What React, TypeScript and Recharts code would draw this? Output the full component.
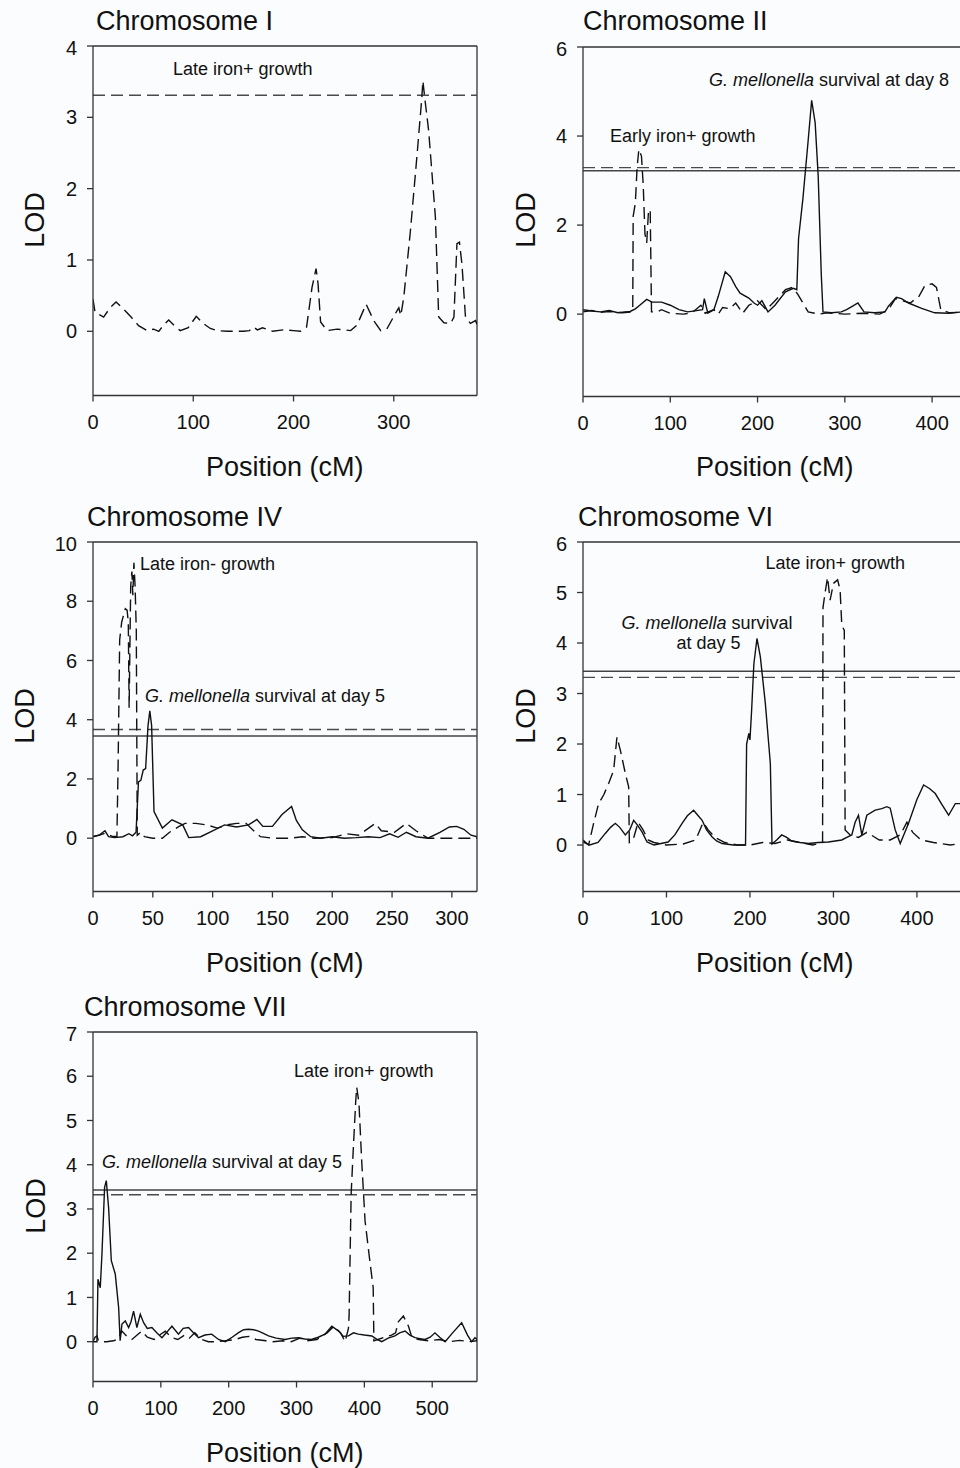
import React from "react";
import { LineChart, Line, XAxis, YAxis, ReferenceLine } from "recharts";

// QTL LOD profiles, five chromosome panels
// each series is a list of [position cM, LOD]

type Pt = [number, number];

// ---- Chromosome I ----
const chr1LateIronPlus: Pt[] = [
  [0, 0.45], [2, 0.27], [10.6, 0.2], [17, 0.33], [23, 0.41], [30, 0.32], [38, 0.2],
  [45.5, 0.08], [54, 0.01], [60.5, 0.03], [65.6, 0], [70, 0.08], [75.5, 0.16], [81, 0.08],
  [87, 0.01], [95, 0.05], [103, 0.21], [110, 0.11], [117, 0.04], [124, 0.01], [134, 0],
  [150, 0], [156, 0.01], [160, 0.06], [164, 0.02], [169, 0.05], [179, 0], [190, 0.02],
  [200, 0.01], [207, 0], [213, 0.06], [218.5, 0.62], [222.5, 0.88], [224.5, 0.66],
  [227, 0.13], [233.5, 0.01], [243.5, 0.03], [257, 0.01], [263.4, 0.09], [272.4, 0.38],
  [280, 0.15], [287, 0.01], [293, 0.03], [301.6, 0.25], [305, 0.33], [307, 0.22],
  [310, 0.48], [316.6, 1.41], [323, 2.44], [328, 3.28], [329, 3.51], [331.5, 3.2],
  [334.8, 2.81], [341.5, 1.6], [344.8, 0.2], [350, 0.12], [356.7, 0.11], [360, 0.2],
  [363, 1.23], [365.5, 1.25], [368, 0.94], [371.5, 0.2], [376.5, 0.11], [381.5, 0.15], [383, 0.1],
];
const chr1DashedThreshold = 3.31;

// ---- Chromosome II ----
const chr2EarlyIronPlus: Pt[] = [
  [0, 0.05], [10, 0.08], [20, 0.04], [30, 0.06], [45, 0.03], [55, 0.05], [57, 0.1],
  [57.5, 2.2], [60, 2.5], [62, 3.3], [64, 3.7], [67, 3.55], [69, 2.9], [71, 1.8], [73, 1.6],
  [75, 2.3], [77, 2.35], [78.5, 0.05], [85, 0.05], [90, 0.1], [100, 0.02], [115, 0],
  [125, 0.03], [135, 0.2], [140, 0.02], [150, 0.1], [155, 0], [160, 0.15], [168, 0.12],
  [175, 0.25], [183, 0.02], [190, 0.2], [200, 0.3], [210, 0.1], [220, 0.3], [232, 0.55],
  [240, 0.6], [246, 0.45], [252, 0.25], [258, 0.05], [270, 0], [280, 0.03], [300, 0],
  [320, 0.02], [340, 0], [350, 0.1], [358, 0.35], [366, 0.3], [375, 0.25], [385, 0.4],
  [392, 0.65], [400, 0.68], [405, 0.6], [410, 0.1], [420, 0.03], [440, 0.05],
];
const chr2SurvivalDay8: Pt[] = [
  [0, 0.1], [10, 0.07], [20, 0.05], [30, 0.08], [40, 0.03], [54, 0.06], [60, 0.12], [65, 0.2],
  [73, 0.33], [79, 0.27], [90, 0.27], [100, 0.2], [110, 0.1], [120, 0.05], [130, 0.08],
  [137, 0.1], [139, 0.35], [143, 0.02], [150, 0.1], [155, 0.4], [163, 0.95], [169, 0.84],
  [175, 0.62], [180, 0.47], [190, 0.36], [196, 0.25], [200, 0.2], [205, 0.3], [212, 0.05],
  [220, 0.2], [232, 0.5], [241, 0.58], [245, 0.55], [247, 1.7], [252, 2.6], [258, 3.9],
  [262, 4.8], [266, 4.3], [269.5, 3.1], [273, 0.9], [275, 0.05], [285, 0.03], [296, 0.05],
  [302, 0.1], [308, 0.17], [315, 0.25], [322, 0.05], [334, 0.03], [346, 0.05], [350, 0.18],
  [359, 0.38], [365, 0.35], [373, 0.25], [388, 0.13], [403, 0.03], [419, 0.02], [440, 0.06],
];
const chr2DashedThreshold = 3.29;
const chr2SolidThreshold = 3.22;

// ---- Chromosome IV ----
const chr4LateIronMinus: Pt[] = [
  [0, 0.06], [5, 0.1], [10, 0.17], [14, 0.1], [16, 0.06], [20, 0.06], [21, 2.5], [22.3, 6.7],
  [24, 7.3], [27, 7.75], [28.5, 7.7], [29.5, 7.3], [30.2, 4.4], [31.5, 8.5], [32.5, 9.0],
  [33.3, 8.2], [34.2, 9.3], [35.2, 8.5], [36.2, 7.0], [37, 0.1], [40, 0.2], [43, 0.05],
  [50, 0], [58, 0], [64, 0.2], [72, 0.4], [77, 0.5], [86, 0.5], [95, 0.45], [104, 0.34],
  [112, 0.45], [120, 0.5], [128, 0.5], [133, 0.3], [140, 0.05], [150, 0], [165, 0],
  [175, 0.05], [185, 0], [200, 0.02], [212, 0.15], [222, 0.1], [236, 0.5], [241, 0.25],
  [252, 0.2], [262, 0.5], [270, 0.25], [280, 0], [300, 0], [321, 0],
];
const chr4SurvivalDay5: Pt[] = [
  [0, 0.05], [5, 0.1], [10, 0.25], [13, 0.05], [18, 0.02], [25, 0.05], [30, 0.15], [33, 0.08],
  [36, 0.2], [38, 1.9], [40, 1.95], [42, 2.3], [44, 2.35], [46, 3.8], [47.5, 4.3], [49, 3.8],
  [51, 0.9], [58, 0.34], [66, 0.62], [75, 0.45], [80, 0.02], [90, 0.05], [100, 0.25],
  [110, 0.45], [120, 0.38], [130, 0.45], [137, 0.63], [142, 0.4], [150, 0.4], [158, 0.8],
  [166, 1.07], [170, 0.6], [175, 0.28], [182, 0.05], [190, 0], [200, 0.05], [210, 0],
  [220, 0.02], [230, 0.05], [240, 0.02], [248, 0.15], [255, 0.03], [262, 0.2], [270, 0.05],
  [280, 0], [290, 0.2], [298, 0.38], [304, 0.4], [310, 0.3], [316, 0.1], [321, 0.05],
];
const chr4DashedThreshold = 3.67;
const chr4SolidThreshold = 3.45;

// ---- Chromosome VI ----
const chr6LateIronPlus: Pt[] = [
  [0, 0.1], [6.7, 0], [12.7, 0.43], [18.7, 0.82], [25, 1.0], [30.7, 1.22], [36.7, 1.48],
  [40.7, 2.14], [44.7, 1.88], [50.7, 1.42], [54.7, 1.15], [55.5, 0.05], [60, 0.1], [66, 0.45],
  [72, 0.3], [78, 0.1], [85, 0.05], [100, 0], [120, 0.02], [135, 0.1], [144, 0.45], [150, 0.3],
  [158, 0.15], [170, 0.05], [185, 0], [200, 0], [215, 0.05], [230, 0.03], [245, 0.1],
  [260, 0.05], [275, 0], [287, 0.05], [287.5, 4.7], [290, 5.0], [293, 5.3], [296, 4.85],
  [300, 5.18], [305, 5.25], [308, 5.05], [310, 4.35], [313, 4.25], [314, 0.3], [320, 0.2],
  [330, 0.15], [340, 0.25], [355, 0.1], [368, 0.1], [380, 0.2], [388, 0.45], [395, 0.25],
  [405, 0.1], [420, 0.05], [440, 0], [460, 0.05],
];
const chr6SurvivalDay5: Pt[] = [
  [0, 0.06], [8, 0], [18, 0.05], [26.7, 0.23], [33, 0.35], [38.7, 0.43], [44, 0.35],
  [50.7, 0.2], [56, 0.3], [60.7, 0.49], [65, 0.4], [70.7, 0.26], [76.7, 0.06], [85, 0],
  [102, 0.06], [110, 0.2], [118.7, 0.43], [125, 0.58], [132.5, 0.69], [137, 0.6], [142.7, 0.49],
  [148, 0.3], [154.7, 0.16], [160, 0.08], [166.7, 0.03], [180, 0], [194.7, 0], [196, 2.0],
  [198.7, 2.21], [200, 2.08], [202, 2.67], [204.7, 3.59], [208.4, 4.09], [212.4, 3.73],
  [218.4, 2.81], [224.4, 1.62], [226.4, 0.02], [232, 0.1], [238, 0.2], [244, 0.15], [250, 0.08],
  [260, 0.05], [270, 0.03], [282, 0.05], [294, 0.06], [302, 0.08], [310, 0.1], [316, 0.15],
  [322, 0.2], [326, 0.45], [330, 0.59], [334, 0.2], [340, 0.59], [350, 0.69], [358, 0.72],
  [364, 0.76], [368, 0.73], [374, 0.3], [380, 0.03], [390, 0.43], [400, 0.9], [408, 1.19],
  [415, 1.12], [422, 1.02], [430, 0.8], [438, 0.59], [446, 0.82], [452, 0.82], [460, 0.7],
];
const chr6SolidThreshold = 3.44;
const chr6DashedThreshold = 3.32;

// ---- Chromosome VII ----
const chr7SurvivalDay5: Pt[] = [
  [0, 0], [5.8, 0], [7.3, 1.41], [10.7, 1.22], [13.2, 1.98], [17.1, 3.49], [19.6, 3.64],
  [23, 3.03], [27, 1.83], [32.8, 1.53], [37.8, 0.77], [40, 0.02], [42.7, 0.4], [47.6, 0.47],
  [52.5, 0.32], [56, 0.45], [59.8, 0.69], [64.7, 0.32], [69.7, 0.62], [74.6, 0.43], [80, 0.3],
  [86.8, 0.32], [94, 0.2], [101.6, 0.09], [108, 0.2], [116.3, 0.35], [126, 0.17], [133, 0.3],
  [140.8, 0.32], [148, 0.2], [155.6, 0.09], [165, 0.15], [175, 0.17], [185, 0.05], [195, 0],
  [205, 0.1], [214, 0.2], [222, 0.27], [229, 0.28], [237, 0.27], [244, 0.24], [252, 0.18],
  [258.7, 0.13], [270, 0.08], [283, 0.05], [293, 0.08], [303, 0.09], [312, 0.06], [322, 0.05],
  [332, 0.1], [342, 0.17], [352, 0.35], [362, 0.24], [369, 0.12], [376.5, 0.13], [384, 0.2],
  [391, 0.17], [400, 0.15], [411, 0.13], [418, 0.06], [425.6, 0], [435, 0.08], [445, 0.13],
  [452, 0.2], [460, 0.24], [467, 0.15], [474.7, 0.09], [482, 0.07], [489.4, 0.05], [497, 0.1],
  [504, 0.2], [511, 0.1], [519, 0], [530, 0.2], [543.4, 0.43], [552, 0.15], [558, 0],
  [563, 0.09], [566, 0.05],
];
const chr7LateIronPlus: Pt[] = [
  [0, 0], [3, 0.1], [5.8, 0.13], [8, 0.02], [10.7, 0], [20, 0], [30, 0.02], [36, 0.05],
  [42.7, 0.24], [50, 0.12], [57.4, 0.05], [65, 0.15], [72.1, 0.24], [80, 0.1], [90, 0.05],
  [98, 0.15], [106.5, 0.24], [115, 0.1], [125, 0.05], [135, 0.15], [142, 0.08], [150, 0.2],
  [160, 0.05], [170, 0], [180, 0], [195, 0.02], [210, 0.05], [220, 0.1], [230, 0.12],
  [240, 0.05], [255, 0.02], [265, 0], [280, 0.02], [292, 0], [305, 0.08], [315, 0.02],
  [330, 0.05], [345, 0.2], [355, 0.35], [365, 0.2], [371.6, 0], [376.5, 0.3], [377.5, 0.6],
  [380.5, 3.34], [383.8, 4.4], [387.3, 5.45], [388.7, 5.75], [392, 5.4], [396, 4.1],
  [401, 2.73], [408, 1.83], [413, 1.22], [414, 0.02], [420, 0.05], [430, 0.1], [440, 0.15],
  [446, 0.2], [450, 0.45], [457.5, 0.58], [465, 0.35], [470, 0.1], [480, 0.05], [495, 0.02],
  [510, 0.05], [525, 0], [540, 0.03], [555, 0], [566, 0.02],
];
const chr7SolidThreshold = 3.43;
const chr7DashedThreshold = 3.32;

const FONT = "'Liberation Sans', Arial, sans-serif";
const INK = "#111";
const AXIS = "#333";
const DASH = "12 6";
const PLOT_W = 384;
const PLOT_H = 349.5;

interface Series {
  points: Pt[];
  dashed?: boolean;
}

interface PanelProps {
  left: number;
  top: number;
  xMax: number;
  yMin: number;
  yMax: number;
  xTicks: number[];
  yTicks: number[];
  series: Series[];
  solidThreshold?: number;
  dashedThreshold?: number;
}

const toRows = (pts: Pt[]) => pts.map(([x, y]) => ({ x, y }));

function Panel({
  left,
  top,
  xMax,
  yMin,
  yMax,
  xTicks,
  yTicks,
  series,
  solidThreshold,
  dashedThreshold,
}: PanelProps) {
  return (
    <div style={{ position: "absolute", left: left - 60, top: top - 10 }}>
      <LineChart
        width={PLOT_W + 70}
        height={PLOT_H + 60}
        margin={{ top: 10, right: 10, bottom: 0, left: 0 }}
      >
        <XAxis
          type="number"
          dataKey="x"
          domain={[0, xMax]}
          ticks={xTicks}
          allowDataOverflow
          height={50}
          tickSize={6}
          tickMargin={13}
          axisLine={{ stroke: AXIS, strokeWidth: 1.3 }}
          tickLine={{ stroke: AXIS, strokeWidth: 1.3 }}
          tick={{ fill: INK, fontSize: 20, fontFamily: FONT }}
        />
        <YAxis
          type="number"
          dataKey="y"
          domain={[yMin, yMax]}
          ticks={yTicks}
          allowDataOverflow
          width={60}
          tickSize={6}
          tickMargin={10}
          axisLine={{ stroke: AXIS, strokeWidth: 1.3 }}
          tickLine={{ stroke: AXIS, strokeWidth: 1.3 }}
          tick={{ fill: INK, fontSize: 20, fontFamily: FONT }}
        />
        {/* frame: top and right edges */}
        <ReferenceLine y={yMax} stroke={AXIS} strokeWidth={1.3} />
        <ReferenceLine x={xMax} stroke={AXIS} strokeWidth={1.3} />
        {solidThreshold !== undefined && (
          <ReferenceLine y={solidThreshold} stroke="#444" strokeWidth={1.4} />
        )}
        {dashedThreshold !== undefined && (
          <ReferenceLine
            y={dashedThreshold}
            stroke="#4a4a4a"
            strokeWidth={1.4}
            strokeDasharray={DASH}
          />
        )}
        {series.map((s, i) => (
          <Line
            key={i}
            data={toRows(s.points)}
            dataKey="y"
            type="linear"
            stroke={INK}
            strokeWidth={1.4}
            strokeDasharray={s.dashed ? DASH : undefined}
            dot={false}
            activeDot={false}
            isAnimationActive={false}
          />
        ))}
      </LineChart>
    </div>
  );
}

const titleStyle = { fontSize: 27, fill: INK };
const noteStyle = { fontSize: 18, fill: INK };

function Labels() {
  const lod = (x: number, y: number) => (
    <text x={x} y={y} transform={`rotate(-90 ${x} ${y})`} textAnchor="middle" style={titleStyle}>
      LOD
    </text>
  );
  const pos = (x: number, y: number) => (
    <text x={x} y={y} textAnchor="middle" style={titleStyle}>
      Position (cM)
    </text>
  );
  return (
    <svg
      width={960}
      height={1468}
      style={{ position: "absolute", left: 0, top: 0, fontFamily: FONT, pointerEvents: "none" }}
    >
      <text x={96} y={30} style={titleStyle}>Chromosome I</text>
      <text x={583} y={30} style={titleStyle}>Chromosome II</text>
      <text x={87} y={526} style={titleStyle}>Chromosome IV</text>
      <text x={578} y={526} style={titleStyle}>Chromosome VI</text>
      <text x={84} y={1016} style={titleStyle}>Chromosome VII</text>

      {lod(44, 220)}
      {lod(535, 220)}
      {lod(34, 716)}
      {lod(535, 716)}
      {lod(45, 1206)}

      {pos(284.7, 476)}
      {pos(774.7, 476)}
      {pos(284.7, 972)}
      {pos(774.7, 972)}
      {pos(284.7, 1462)}

      <text x={173} y={74.5} style={noteStyle}>Late iron+ growth</text>
      <text x={709} y={86} style={noteStyle}>
        <tspan fontStyle="italic">G. mellonella</tspan> survival at day 8
      </text>
      <text x={610} y={142} style={noteStyle}>Early iron+ growth</text>
      <text x={140} y={570} style={noteStyle}>Late iron- growth</text>
      <text x={145} y={701.5} style={noteStyle}>
        <tspan fontStyle="italic">G. mellonella</tspan> survival at day 5
      </text>
      <text x={765.5} y={569} style={noteStyle}>Late iron+ growth</text>
      <text x={621.5} y={629} style={noteStyle}>
        <tspan fontStyle="italic">G. mellonella</tspan> survival
      </text>
      <text x={676.5} y={649} style={noteStyle}>at day 5</text>
      <text x={294} y={1077} style={noteStyle}>Late iron+ growth</text>
      <text x={102} y={1168} style={noteStyle}>
        <tspan fontStyle="italic">G. mellonella</tspan> survival at day 5
      </text>
    </svg>
  );
}

export default function App() {
  return (
    <div
      style={{
        position: "absolute",
        left: 0,
        top: 0,
        width: 960,
        height: 1468,
        overflow: "hidden",
        background: "#fbfcfd",
        fontFamily: FONT,
      }}
    >
      <Panel
        left={92.7}
        top={45.5}
        xMax={383}
        yMin={-0.9}
        yMax={4}
        xTicks={[0, 100, 200, 300]}
        yTicks={[0, 1, 2, 3, 4]}
        series={[{ points: chr1LateIronPlus, dashed: true }]}
        dashedThreshold={chr1DashedThreshold}
      />
      <Panel
        left={582.7}
        top={46.5}
        xMax={440}
        yMin={-1.85}
        yMax={6}
        xTicks={[0, 100, 200, 300, 400]}
        yTicks={[0, 2, 4, 6]}
        series={[
          { points: chr2EarlyIronPlus, dashed: true },
          { points: chr2SurvivalDay8 },
        ]}
        solidThreshold={chr2SolidThreshold}
        dashedThreshold={chr2DashedThreshold}
      />
      <Panel
        left={92.7}
        top={541.7}
        xMax={321}
        yMin={-1.8}
        yMax={10}
        xTicks={[0, 50, 100, 150, 200, 250, 300]}
        yTicks={[0, 2, 4, 6, 8, 10]}
        series={[
          { points: chr4LateIronMinus, dashed: true },
          { points: chr4SurvivalDay5 },
        ]}
        solidThreshold={chr4SolidThreshold}
        dashedThreshold={chr4DashedThreshold}
      />
      <Panel
        left={582.7}
        top={541.7}
        xMax={460}
        yMin={-0.92}
        yMax={6}
        xTicks={[0, 100, 200, 300, 400]}
        yTicks={[0, 1, 2, 3, 4, 5, 6]}
        series={[
          { points: chr6LateIronPlus, dashed: true },
          { points: chr6SurvivalDay5 },
        ]}
        solidThreshold={chr6SolidThreshold}
        dashedThreshold={chr6DashedThreshold}
      />
      <Panel
        left={92.7}
        top={1031.7}
        xMax={566}
        yMin={-0.9}
        yMax={7}
        xTicks={[0, 100, 200, 300, 400, 500]}
        yTicks={[0, 1, 2, 3, 4, 5, 6, 7]}
        series={[
          { points: chr7LateIronPlus, dashed: true },
          { points: chr7SurvivalDay5 },
        ]}
        solidThreshold={chr7SolidThreshold}
        dashedThreshold={chr7DashedThreshold}
      />
      <Labels />
    </div>
  );
}
